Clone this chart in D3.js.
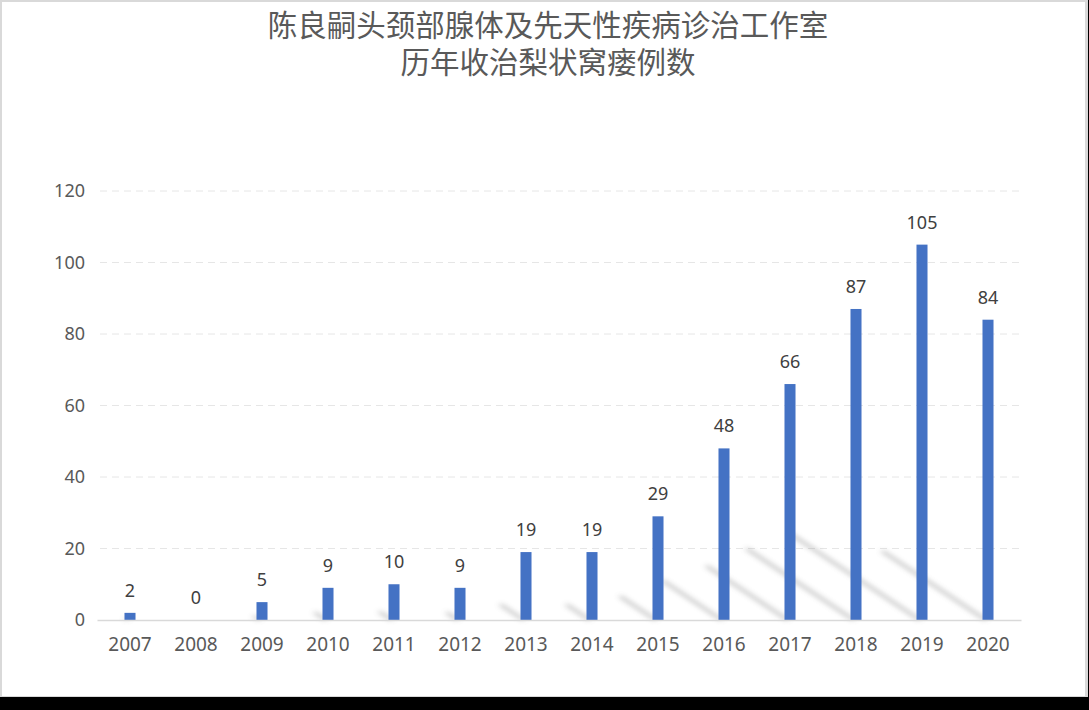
<!DOCTYPE html>
<html><head><meta charset="utf-8">
<script src="https://cdn.jsdelivr.net/npm/d3@7"></script>
<style>
html,body{margin:0;padding:0;background:#000;}
svg{display:block;}
</style></head>
<body>
<svg id="c" width="1089" height="710"></svg>
<script>
const years = ["2007","2008","2009","2010","2011","2012","2013","2014","2015","2016","2017","2018","2019","2020"];
const cases = [2,0,5,9,10,9,19,19,29,48,66,87,105,84];
const yTicks = [0,20,40,60,80,100,120];
const titleLines = ["陈良嗣头颈部腺体及先天性疾病诊治工作室","历年收治梨状窝瘘例数"];

const svg = d3.select("#c");
const W = 1089, H = 710;
svg.append("rect").attr("x",0).attr("y",0).attr("width",W).attr("height",H).attr("fill","#000");
svg.append("rect").attr("x",0).attr("y",0).attr("width",1088).attr("height",697).attr("fill","#d9d9d9");
svg.append("rect").attr("x",2).attr("y",2).attr("width",1083).attr("height",694).attr("fill","#fff");

const defs = svg.append("defs");
defs.append("filter").attr("id","blur").attr("x","-50%").attr("y","-50%").attr("width","200%").attr("height","200%")
  .append("feGaussianBlur").attr("stdDeviation",2.5);

const x = d3.scaleBand().domain(years).range([97,1021]).paddingInner(0.833).paddingOuter(0.4165);
const y = d3.scaleLinear().domain([0,120]).range([620,191]);
const y0 = y(0);

const font = "'Noto Sans', 'Noto Sans CJK SC', sans-serif";

// gridlines
svg.append("g").selectAll("line").data(yTicks.filter(d=>d>0)).join("line")
  .attr("x1",100).attr("x2",1020).attr("y1",d=>y(d)).attr("y2",d=>y(d))
  .attr("stroke","#e6e6e6").attr("stroke-width",1).attr("stroke-dasharray","7,5");

// cast shadows of bars (diagonal, up-left from base)
const sh = svg.append("g").attr("filter","url(#blur)").attr("opacity",0.45);
sh.selectAll("path").data(cases).join("path")
  .attr("d",(v,i)=>{
    const bx = x(years[i]), w = x.bandwidth();
    const dy = (y0 - y(v)) * 0.23, dx = dy * 1.5;
    return `M${bx},${y0} L${bx+w*0.6},${y0} L${bx+w*0.6-dx},${y0-dy} L${bx-dx},${y0-dy} Z`;
  })
  .attr("fill","#8c8c8c");

// y labels
svg.append("g").selectAll("text").data(yTicks).join("text")
  .attr("x",85).attr("y",d=>y(d)).attr("dy","0.36em").attr("text-anchor","end")
  .attr("font-family",font).attr("font-size",18).attr("fill","#595959").text(d=>d);

// bars
svg.append("g").selectAll("rect").data(cases).join("rect")
  .attr("x",(d,i)=>x(years[i])).attr("width",x.bandwidth())
  .attr("y",d=>y(d)).attr("height",d=>y0-y(d)).attr("fill","#4472c4");

// axis
const xAxis = svg.append("g").attr("transform",`translate(0,${y0})`)
  .call(d3.axisBottom(x).tickSize(0).tickPadding(18));
xAxis.select(".domain").attr("stroke","#d9d9d9").attr("stroke-width",1.5);
xAxis.selectAll("text").attr("font-family",font).attr("font-size",19).attr("fill","#595959");

// data labels
svg.append("g").selectAll("text").data(cases).join("text")
  .attr("x",(d,i)=>x(years[i])+x.bandwidth()/2).attr("y",d=>y(d)-16)
  .attr("text-anchor","middle").attr("font-family",font).attr("font-size",18).attr("fill","#404040")
  .text(d=>d);

// title
svg.append("g").selectAll("text").data(titleLines).join("text")
  .attr("x",548).attr("y",(d,i)=>36+i*37).attr("text-anchor","middle")
  .attr("font-family","'Noto Sans CJK SC', sans-serif").attr("font-size",29.5).attr("fill","#595959")
  .text(d=>d);
</script>
</body></html>
